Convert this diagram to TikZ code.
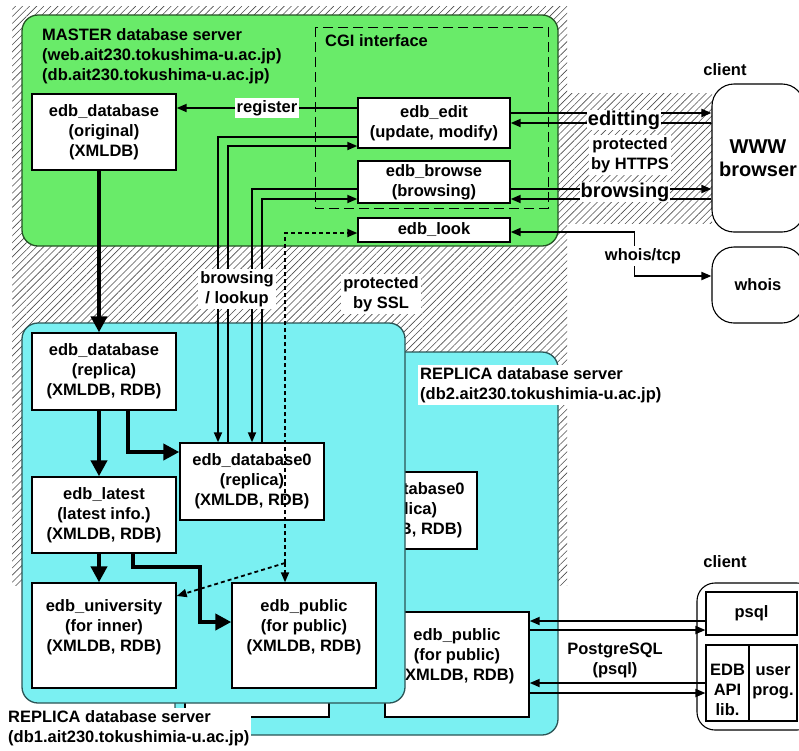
\documentclass[tikz,border=0pt]{standalone}
\usepackage{fontspec}
\setmainfont{Liberation Sans}
\usetikzlibrary{arrows.meta,patterns.meta}
\definecolor{mastergreen}{RGB}{105,235,105}
\definecolor{replicacyan}{RGB}{122,240,242}

\begin{document}
\begin{tikzpicture}[x=1pt,y=-1pt,line join=miter,>={Triangle[length=10pt,width=8pt]},
  every node/.style={inner sep=0pt,font=\fontsize{16.5}{20}\selectfont\bfseries},
  big/.style={font=\fontsize{20}{23}\selectfont\bfseries},
  dbbox/.style={draw,fill=white,line width=1.4pt,minimum width=144pt,align=center},
  tag/.style={fill=white,align=center,inner sep=2pt},
  conn/.style={line width=1.8pt,->},
  feed/.style={line width=4.5pt,-{Triangle[length=16pt,width=16pt]}},
  dotline/.style={line width=1.8pt,dash pattern=on 4pt off 3pt,->},
  hatch/.style={pattern={Lines[angle=45,distance=5pt,line width=0.6pt]},pattern color=black!70},
  server/.style={line width=1.3pt,rounded corners=16pt},
  clientbox/.style={draw,line width=1.1pt,rounded corners=22pt},
  part/.style={draw,line width=1.1pt,align=center}]
  \useasboundingbox (0,0) rectangle (799,750);

  % hatched zone
  \fill[hatch] (12,6) rectangle (567,585);
  \fill[hatch] (567,93) rectangle (712,223);

  % master server
  \filldraw[server,draw=mastergreen!35!black,fill=mastergreen] (22,15) rectangle (558,246);
  \draw[line width=1pt,dash pattern=on 10pt off 5pt] (315,27) rectangle (548,208);
  \node[anchor=north west,align=left] (mastertitle) at (42,28) {MASTER database server\\(web.ait230.tokushima-u.ac.jp)\\(db.ait230.tokushima-u.ac.jp)};
  \node[anchor=west] (cgititle) at (325,41) {CGI interface};
  \node[dbbox,minimum height=76pt] (orig) at (104,132) {edb\_database\\(original)\\(XMLDB)};
  \node[dbbox,minimum width=152pt,minimum height=50pt] (edit) at (434,123) {edb\_edit\\(update, modify)};
  \node[dbbox,minimum width=152pt,minimum height=42pt] (browse) at (434,182) {edb\_browse\\(browsing)};
  \node[dbbox,minimum width=152pt,minimum height=24pt] (look) at (434,230) {edb\_look};

  % replica server db2
  \filldraw[server,draw=replicacyan!35!black,fill=replicacyan] (175,352) rectangle (558,735);
  \node[dbbox,minimum height=77pt] (dbzerob) at (405,510.5) {edb\_database0\\(replica)\\(XMLDB, RDB)};
  \node[dbbox,minimum height=105pt] (univb) at (257,664.5) {};
  \node[dbbox,minimum height=105pt] (pubb) at (457,664.5) {};
  \node[align=center] (pubbtext) at (457,656) {edb\_public\\(for public)\\(XMLDB, RDB)};
  \node[tag,anchor=north west,align=left] (dbtwotitle) at (418,365) {REPLICA database server\\(db2.ait230.tokushimia-u.ac.jp)};

  % replica server db1
  \filldraw[server,draw=replicacyan!35!black,fill=replicacyan] (22,323) rectangle (405,703);
  \node[dbbox,minimum height=77pt] (repl) at (104,371.5) {edb\_database\\(replica)\\(XMLDB, RDB)};
  \node[dbbox,minimum height=76pt] (latest) at (104,515) {edb\_latest\\(latest info.)\\(XMLDB, RDB)};
  \node[dbbox,minimum height=105pt] (univ) at (104,635.5) {};
  \node[align=center] (univtext) at (104,627) {edb\_university\\(for inner)\\(XMLDB, RDB)};
  \node[dbbox,minimum height=77pt] (dbzero) at (252,481.5) {edb\_database0\\(replica)\\(XMLDB, RDB)};
  \node[dbbox,minimum height=105pt] (pub) at (304,635.5) {};
  \node[align=center] (pubtext) at (304,627) {edb\_public\\(for public)\\(XMLDB, RDB)};
  \node[tag,anchor=north west,align=left] (dbonetitle) at (6,708) {REPLICA database server\\(db1.ait230.tokushimia-u.ac.jp)};

  % replication
  \draw[feed] ([xshift=-5pt]orig.south) -- ([xshift=-5pt]repl.north);
  \draw[feed] ([xshift=-5pt]repl.south) -- ([xshift=-5pt]latest.north);
  \draw[feed] ([xshift=24pt]repl.south) |- ([yshift=29.5pt]dbzero.west);
  \draw[feed] ([xshift=-5pt]latest.south) -- ([xshift=-5pt]univ.north);
  \coordinate (jog) at (200,567);
  \draw[feed] ([xshift=29pt]latest.south) |- (jog) |- ([yshift=13.5pt]pub.west);

  % CGI reads the replica
  \draw[conn] ([yshift=-14pt]edit.west) -| ([xshift=-34pt]dbzero.north);
  \draw[conn] ([xshift=-24pt]dbzero.north) |- ([yshift=-23pt]edit.west);
  \draw[conn] ([yshift=-7pt]browse.west) -| (dbzero.north);
  \draw[conn] ([xshift=10pt]dbzero.north) |- ([yshift=-17pt]browse.west);
  \node[tag] (lookup) at (237,289) {browsing\\/ lookup};
  \draw[conn] ([yshift=15pt]edit.west) -- ([yshift=15pt]edit.west -| orig.east) node[tag,midway] (register) {register};

  \coordinate (split) at (285,563);
  \draw[dotline] (split) |- ([yshift=-3pt]look.west);
  \draw[dotline] (split) -- (split |- pub.north);
  \draw[dotline] (split) -- ([yshift=39.5pt]univ.east);
  \node[tag] (ssl) at (381,294) {protected\\by SSL};

  % web clients
  \node (clienttop) at (725,70) {client};
  \node[clientbox,big,minimum width=92pt,minimum height=148pt,align=center] (www) at (758,158) {WWW\\browser};
  \node[clientbox,minimum width=92pt,minimum height=76pt] (whois) at (758,285) {whois};
  \draw[conn] ([yshift=10pt]edit.east) -- ([yshift=10pt]edit.east -| www.west);
  \draw[conn] (edit.east -| www.west) -- (edit.east);
  \draw[conn] ([yshift=-7pt]browse.east) -- ([yshift=-7pt]browse.east -| www.west);
  \draw[conn] ([yshift=-17pt]browse.east -| www.west) -- ([yshift=-17pt]browse.east);
  \node[tag,big,inner sep=1pt] (editting) at (624,120) {editting};
  \node[tag,big,inner sep=1pt] (browsing) at (625,192) {browsing};
  \node[tag] (https) at (630,155) {protected\\by HTTPS};
  \draw[conn,<->] ([yshift=-2pt]look.east) -| ([xshift=-77pt,yshift=9pt]whois.west) -- ([yshift=9pt]whois.west);
  \node[tag] (tcp) at (643,256) {whois/tcp};

  % PostgreSQL clients
  \node (clientbottom) at (725,562) {client};
  \node[clientbox,rounded corners=18pt,minimum width=118pt,minimum height=147pt] (pc) at (756,656.5) {};
  \node[part,minimum width=91pt,minimum height=43pt] (psql) at (751.5,613.5) {psql};
  \node[part,minimum width=43pt,minimum height=76pt] (api) at (727.5,683) {};
  \node[align=center] (apitext) at (727.5,689.5) {EDB\\API\\lib.};
  \node[part,minimum width=48pt,minimum height=76pt] (user) at (773,683) {user\\prog.};
  \draw[conn] ([yshift=-7.5pt]psql.west) -- ([yshift=-7.5pt]psql.west -| pubb.east);
  \draw[conn] ([yshift=-16.5pt]psql.west -| pubb.east) -- ([yshift=-16.5pt]psql.west);
  \draw[conn] (api.west) -- (api.west -| pubb.east);
  \draw[conn] ([yshift=-10pt]api.west -| pubb.east) -- ([yshift=-10pt]api.west);
  \node[align=center] (pgsql) at (615,660) {PostgreSQL\\(psql)};
\end{tikzpicture}
\end{document}
